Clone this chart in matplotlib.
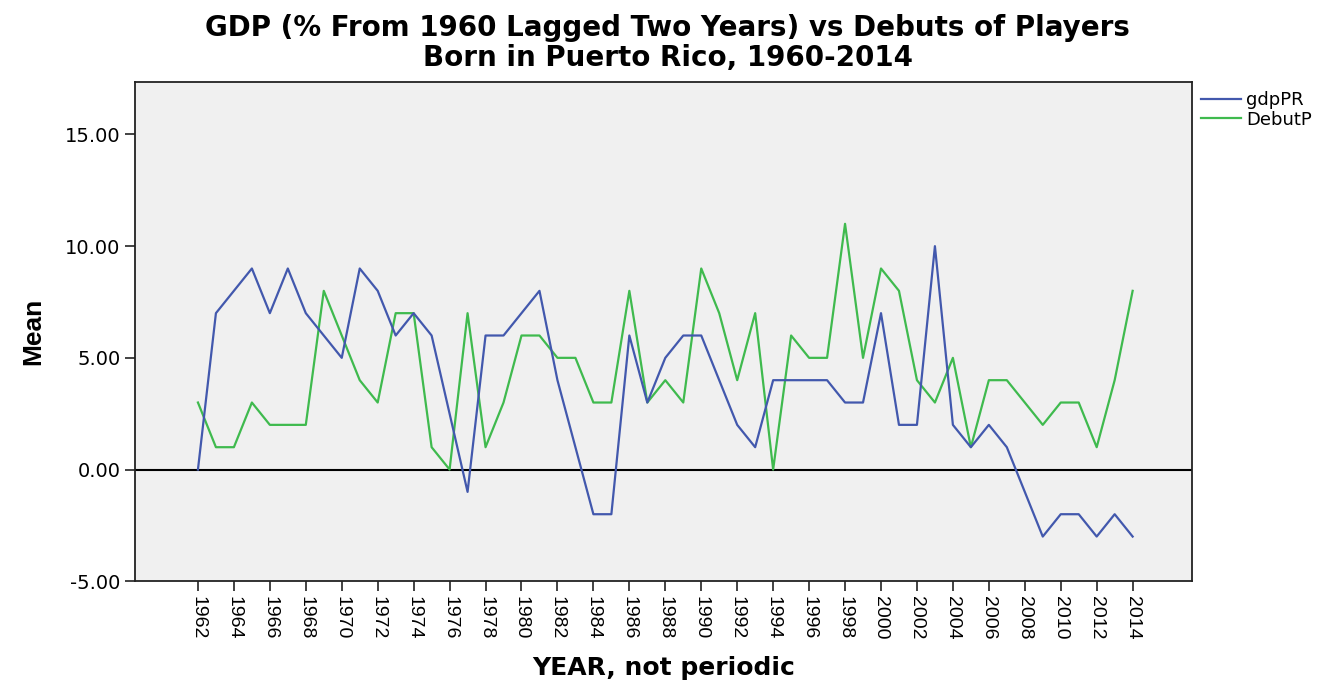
import matplotlib
matplotlib.use('Agg')
import matplotlib.pyplot as plt

plt.rcParams['font.family'] = ['DejaVu Sans']

years = list(range(1962, 2015))

gdp_pr = [0, 7, 8, 9, 7, 9, 7, 6, 5, 9,
          8, 6, 7, 6, 2.5, -1, 6, 6, 7, 8,
          4, 1, -2, -2, 6, 3, 5, 6, 6, 4,
          2, 1, 4, 4, 4, 4, 3, 3, 7, 2,
          2, 10, 2, 1, 2, 1, -1, -3, -2, -2,
          -3, -2, -3]

debut_p = [3, 1, 1, 3, 2, 2, 2, 8, 6, 4,
           3, 7, 7, 1, 0, 7, 1, 3, 6, 6,
           5, 5, 3, 3, 8, 3, 4, 3, 9, 7,
           4, 7, 0, 6, 5, 5, 11, 5, 9, 8,
           4, 3, 5, 1, 4, 4, 3, 2, 3, 3,
           1, 4, 8]

tick_years = list(range(1962, 2015, 2))
y_ticks = [-5, 0, 5, 10, 15]

fig = plt.figure(figsize=(13.2, 6.83), dpi=100)
ax = fig.add_axes([0.1023, 0.149, 0.8007, 0.731])
ax.set_facecolor('#f0f0f0')

ax.axhline(0, color='black', linewidth=1.5, zorder=1)
ax.plot(years, gdp_pr, color='#4258ad', linewidth=1.6, label='gdpPR', zorder=3)
ax.plot(years, debut_p, color='#3fba4e', linewidth=1.6, label='DebutP', zorder=2)

ax.set_xlim(1958.5, 2017.3)
ax.set_ylim(-5, 17.35)
ax.set_yticks(y_ticks)
ax.set_yticklabels(['%.2f' % v for v in y_ticks], fontsize=14)
ax.set_xticks(tick_years)
# rotated text is not stretched sideways in the original, so Arial metrics fit better
ax.set_xticklabels([str(y) for y in tick_years], rotation=270, fontsize=14,
                   family='Liberation Sans')
ax.tick_params(axis='both', direction='out', length=7, width=1.2, color='#222222')

for sp in ax.spines.values():
    sp.set_linewidth(1.3)
    sp.set_color('#222222')

ax.set_xlabel('YEAR, not periodic', fontsize=18, fontweight='bold', labelpad=12)
ax.set_ylabel('Mean', fontsize=19, fontweight='bold', labelpad=14,
              family='Liberation Sans')

fig.text(0.506, 0.937, 'GDP (% From 1960 Lagged Two Years) vs Debuts of Players\nBorn in Puerto Rico, 1960-2014',
         ha='center', va='center', fontsize=20, fontweight='bold', linespacing=1.05)

ax.legend(loc='upper left', bbox_to_anchor=(1.0, 1.0), frameon=False, fontsize=13,
          handlelength=2.2, handletextpad=0.3, labelspacing=0.1, borderaxespad=0.1)

fig.savefig('out.png', dpi=100)
